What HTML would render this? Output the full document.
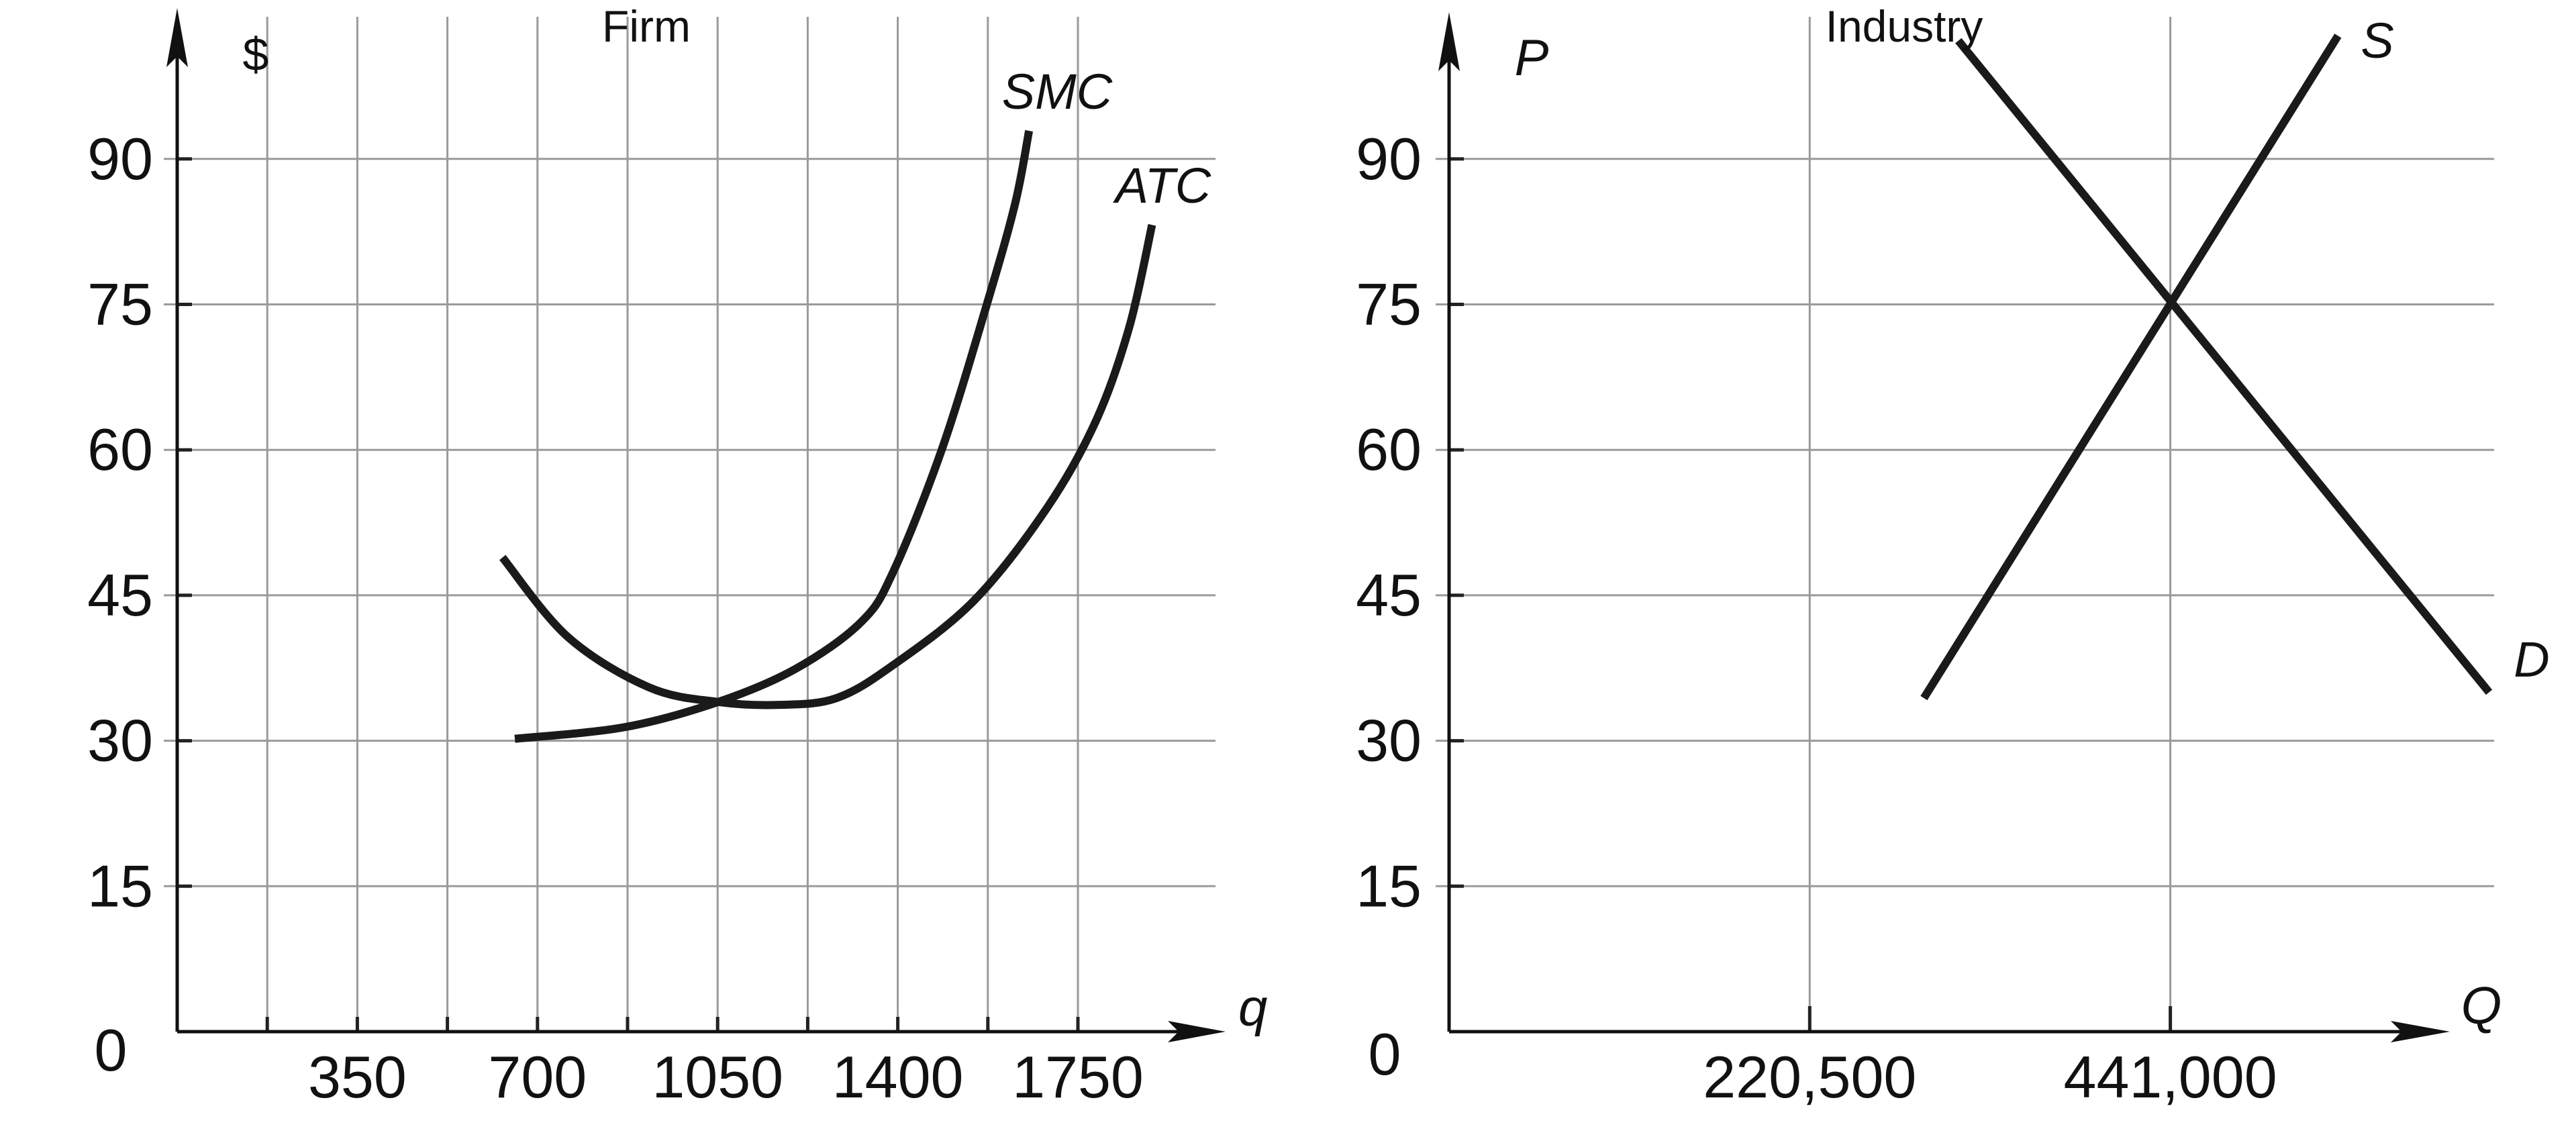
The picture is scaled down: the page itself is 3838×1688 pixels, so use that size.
<!DOCTYPE html>
<html><head><meta charset="utf-8"><style>
html,body{margin:0;padding:0;background:#fff;}
svg{display:block;font-family:"Liberation Sans",sans-serif;}
</style></head><body>
<svg id="c" width="3838" height="1688" viewBox="0 0 3838 1688" xmlns="http://www.w3.org/2000/svg"></svg>
<script>
// ---- data ----
const priceTicks = [0, 15, 30, 45, 60, 75, 90];
const firmQTicks = [350, 700, 1050, 1400, 1750];
const firmGridQ = [175, 350, 525, 700, 875, 1050, 1225, 1400, 1575, 1750];
const smcQ = [656, 869, 1051, 1201, 1328, 1391, 1486, 1573, 1628, 1655];
const smcP = [30.2, 31.4, 34.0, 37.4, 42.2, 47.4, 60.1, 75.0, 85.4, 92.9];
const atcQ = [632, 759, 917, 1051, 1170, 1281, 1391, 1549, 1691, 1786, 1850, 1894];
const atcP = [48.9, 40.7, 35.5, 34.0, 33.7, 34.4, 37.8, 44.5, 54.1, 63.1, 72.7, 83.2];
const indQTicks = [220500, 441000];
const indQTickLabels = ["220,500", "441,000"];
const supplyQ = [290300, 543500];
const supplyP = [34.4, 102.7];
const demandQ = [311400, 635900];
const demandP = [102.2, 35.0];

const svg = document.getElementById('c');
const NS = 'http://www.w3.org/2000/svg';
function el(tag, attrs, parent){
  const e = document.createElementNS(NS, tag);
  for (const k in attrs) e.setAttribute(k, attrs[k]);
  (parent||svg).appendChild(e);
  return e;
}
const y0 = 1537, pxPer15 = 216.7;
const yS = p => y0 - p / 15 * pxPer15;
// firm axis
const fx0 = 264, fPer175 = 134.2;
const fX = q => fx0 + q / 175 * fPer175;
// industry axis
const ix0 = 2159, iPer = 537.3;
const iX = q => ix0 + q / 220500 * iPer;

function text(str, x, y, size, name, opts){
  const t = el('text', Object.assign({x:x, y:y, 'font-size':size, fill:'#111'}, opts||{}));
  t.textContent = str;
  
  
  return t;
}

// ---- FIRM ----
const gF = el('g', {});


priceTicks.forEach(p => {
  if (p === 0) return;
  const l = el('line', {x1:fx0-20, x2:1811, y1:yS(p), y2:yS(p), stroke:'#9a9a9a', 'stroke-width':3}, gF);
  
  
  const tk = el('line', {x1:fx0, x2:fx0+22, y1:yS(p), y2:yS(p), stroke:'#222', 'stroke-width':5}, gF);
  
  
  text(String(p), 228, yS(p)+30, 88, 'firm-y-tick-label', {'text-anchor':'end'});
});
text('0', 165, y0+58, 88, 'firm-origin-label', {'text-anchor':'middle'});
firmGridQ.forEach(q => {
  const l = el('line', {x1:fX(q), x2:fX(q), y1:25, y2:y0, stroke:'#9a9a9a', 'stroke-width':3}, gF);
  
  
  const tk = el('line', {x1:fX(q), x2:fX(q), y1:y0-22, y2:y0, stroke:'#222', 'stroke-width':5}, gF);
  
  
});
firmQTicks.forEach(q => text(String(q), fX(q), 1635, 88, 'firm-x-tick-label', {'text-anchor':'middle'}));
const fxa = el('line', {x1:fx0, x2:1780, y1:y0, y2:y0, stroke:'#111', 'stroke-width':5}, gF);
 
const fxh = el('polygon', {points:`1826,${y0} 1740,${y0-16} 1756,${y0} 1740,${y0+16}`, fill:'#111'}, gF);
 
const fya = el('line', {x1:fx0, x2:fx0, y1:60, y2:y0, stroke:'#111', 'stroke-width':5}, gF);
 
const fyh = el('polygon', {points:`${fx0},12 ${fx0-16},100 ${fx0},84 ${fx0+16},100`, fill:'#111'}, gF);
 
text('Firm', 963, 62, 66, 'firm-title', {'text-anchor':'middle'});
text('$', 381, 105, 70, 'firm-y-axis-title', {'text-anchor':'middle'});
text('q', 1845, 1528, 78, 'firm-x-axis-title', {'font-style':'italic'});
text('SMC', 1575, 162, 74, 'smc-label', {'text-anchor':'middle','font-style':'italic'});
text('ATC', 1733, 302, 74, 'atc-label', {'text-anchor':'middle','font-style':'italic'});

function smoothPath(xs, ys){
  const pts = xs.map((x,i)=>[x, ys[i]]);
  let d = `M${pts[0][0]},${pts[0][1]}`;
  for (let i=0;i<pts.length-1;i++){
    const p0 = pts[i-1]||pts[i], p1 = pts[i], p2 = pts[i+1], p3 = pts[i+2]||p2;
    const c1 = [p1[0]+(p2[0]-p0[0])/6, p1[1]+(p2[1]-p0[1])/6];
    const c2 = [p2[0]-(p3[0]-p1[0])/6, p2[1]-(p3[1]-p1[1])/6];
    d += ` C${c1[0]},${c1[1]} ${c2[0]},${c2[1]} ${p2[0]},${p2[1]}`;
  }
  return d;
}
const smc = el('path', {d:smoothPath(smcQ.map(fX), smcP.map(yS)), fill:'none', stroke:'#1a1a1a', 'stroke-width':12}, gF);
 
const atc = el('path', {d:smoothPath(atcQ.map(fX), atcP.map(yS)), fill:'none', stroke:'#1a1a1a', 'stroke-width':12}, gF);
 

// ---- INDUSTRY ----
const gI = el('g', {});


priceTicks.forEach(p => {
  if (p === 0) return;
  const l = el('line', {x1:ix0-20, x2:3716, y1:yS(p), y2:yS(p), stroke:'#9a9a9a', 'stroke-width':3}, gI);
  
  
  const tk = el('line', {x1:ix0, x2:ix0+22, y1:yS(p), y2:yS(p), stroke:'#222', 'stroke-width':5}, gI);
  
  
  text(String(p), 2118, yS(p)+30, 88, 'industry-y-tick-label', {'text-anchor':'end'});
});
text('0', 2063, y0+64, 88, 'industry-origin-label', {'text-anchor':'middle'});
indQTicks.forEach((q,i) => {
  const l = el('line', {x1:iX(q), x2:iX(q), y1:25, y2:y0, stroke:'#9a9a9a', 'stroke-width':3}, gI);
  
  
  const tk = el('line', {x1:iX(q), x2:iX(q), y1:y0-38, y2:y0, stroke:'#222', 'stroke-width':5}, gI);
  
  
  text(indQTickLabels[i], iX(q), 1635, 88, 'industry-x-tick-label', {'text-anchor':'middle'});
});
const ixa = el('line', {x1:ix0, x2:3600, y1:y0, y2:y0, stroke:'#111', 'stroke-width':5}, gI);
 
const ixh = el('polygon', {points:`3650,${y0} 3562,${y0-16} 3578,${y0} 3562,${y0+16}`, fill:'#111'}, gI);
 
const iya = el('line', {x1:ix0, x2:ix0, y1:60, y2:y0, stroke:'#111', 'stroke-width':5}, gI);
 
const iyh = el('polygon', {points:`${ix0},18 ${ix0-16},106 ${ix0},90 ${ix0+16},106`, fill:'#111'}, gI);
 
text('Industry', 2837, 62, 66, 'industry-title', {'text-anchor':'middle'});
text('P', 2282, 112, 76, 'industry-y-axis-title', {'text-anchor':'middle','font-style':'italic'});
text('Q', 3697, 1525, 78, 'industry-x-axis-title', {'text-anchor':'middle','font-style':'italic'});
text('S', 3542, 86, 74, 'supply-label', {'text-anchor':'middle','font-style':'italic'});
text('D', 3772, 1008, 74, 'demand-label', {'text-anchor':'middle','font-style':'italic'});
const sup = el('line', {x1:iX(supplyQ[0]), y1:yS(supplyP[0]), x2:iX(supplyQ[1]), y2:yS(supplyP[1]), stroke:'#1a1a1a', 'stroke-width':12}, gI);
 
const dem = el('line', {x1:iX(demandQ[0]), y1:yS(demandP[0]), x2:iX(demandQ[1]), y2:yS(demandP[1]), stroke:'#1a1a1a', 'stroke-width':12}, gI);
 
</script>
</body></html>
